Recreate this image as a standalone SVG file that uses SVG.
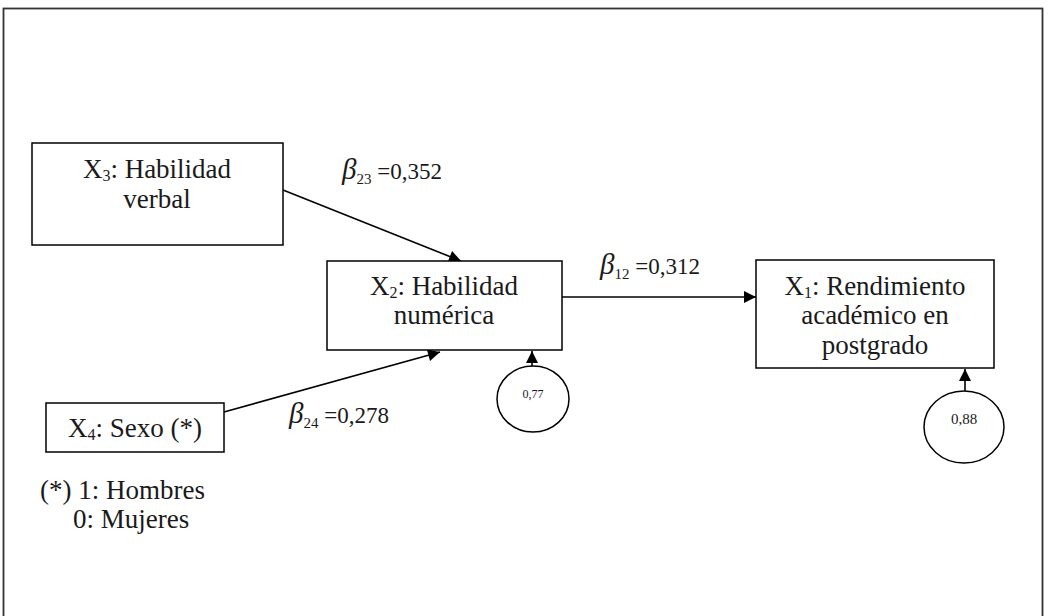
<svg xmlns="http://www.w3.org/2000/svg" width="1056" height="616" viewBox="0 0 1056 616">
  <style>
    .box { fill: #ffffff; stroke: #000000; stroke-width: 1.5; }
    .t { font-family: "Liberation Serif", "Times New Roman", serif; font-size: 27px; fill: #1a1a1a; text-anchor: middle; }
    .tl { font-family: "Liberation Serif", "Times New Roman", serif; font-size: 27px; fill: #1a1a1a; }
    .lbl { font-family: "Liberation Serif", "Times New Roman", serif; font-size: 23px; fill: #1a1a1a; }
    .beta { font-style: italic; font-size: 29px; }
    .sub { font-size: 15px; }
    .small { font-family: "Liberation Serif", "Times New Roman", serif; fill: #1a1a1a; text-anchor: middle; }
    .edge { stroke: #000000; stroke-width: 1.6; fill: none; marker-end: url(#arrow); }
    .err { fill: #ffffff; stroke: #000000; stroke-width: 1.5; }
  </style>
  <defs>
    <marker id="arrow" viewBox="0 0 10 10" refX="10" refY="5" markerWidth="13" markerHeight="12" markerUnits="userSpaceOnUse" orient="auto">
      <path d="M0,0 L10,5 L0,10 z" fill="#000000"/>
    </marker>
  </defs>

  <rect id="frame" x="3.5" y="8.5" width="1039" height="640" fill="none" stroke="#333333" stroke-width="1.8"/>

  <g id="connectors">
    <line class="edge" x1="283" y1="190" x2="461" y2="261"/>
    <line class="edge" x1="224" y1="412" x2="440" y2="352"/>
    <line class="edge" x1="558" y1="297" x2="756" y2="297"/>
    <line class="edge" x1="532" y1="366" x2="532" y2="351"/>
    <line class="edge" x1="965" y1="391" x2="965" y2="369"/>
  </g>

  <g id="x3">
    <rect class="box" x="32" y="143" width="251" height="102"/>
    <text class="t" x="157" y="178">X<tspan font-size="16" dy="3">3</tspan><tspan dy="-3">: Habilidad</tspan></text>
    <text class="t" x="157" y="208">verbal</text>
  </g>

  <g id="x2">
    <rect class="box" x="327" y="261" width="235" height="89"/>
    <text class="t" x="444" y="295">X<tspan font-size="16" dy="3">2</tspan><tspan dy="-3">: Habilidad</tspan></text>
    <text class="t" x="444" y="324">numérica</text>
  </g>

  <g id="x1">
    <rect class="box" x="756" y="260" width="238" height="108"/>
    <text class="t" x="875" y="295">X<tspan font-size="16" dy="3">1</tspan><tspan dy="-3">: Rendimiento</tspan></text>
    <text class="t" x="875" y="324">académico en</text>
    <text class="t" x="875" y="354">postgrado</text>
  </g>

  <g id="x4">
    <rect class="box" x="46" y="403" width="178" height="49"/>
    <text class="t" x="135" y="437">X<tspan font-size="16" dy="3">4</tspan><tspan dy="-3">: Sexo (*)</tspan></text>
  </g>

  <g id="e2">
    <ellipse class="err" cx="533" cy="399" rx="36" ry="33"/>
    <text class="small" x="533" y="398" font-size="12">0,77</text>
  </g>

  <g id="e1">
    <ellipse class="err" cx="964" cy="427" rx="40" ry="36"/>
    <text class="small" x="964" y="424" font-size="15">0,88</text>
  </g>

  <g id="labels">
    <text class="lbl" x="342" y="179"><tspan class="beta">β</tspan><tspan class="sub" dy="5">23</tspan><tspan dy="-5"> =0,352</tspan></text>
    <text class="lbl" x="600" y="274"><tspan class="beta">β</tspan><tspan class="sub" dy="5">12</tspan><tspan dy="-5"> =0,312</tspan></text>
    <text class="lbl" x="289" y="423"><tspan class="beta">β</tspan><tspan class="sub" dy="5">24</tspan><tspan dy="-5"> =0,278</tspan></text>
  </g>

  <g id="note">
    <text class="tl" x="40" y="499">(*) 1: Hombres</text>
    <text class="tl" x="73" y="528">0: Mujeres</text>
  </g>
</svg>
